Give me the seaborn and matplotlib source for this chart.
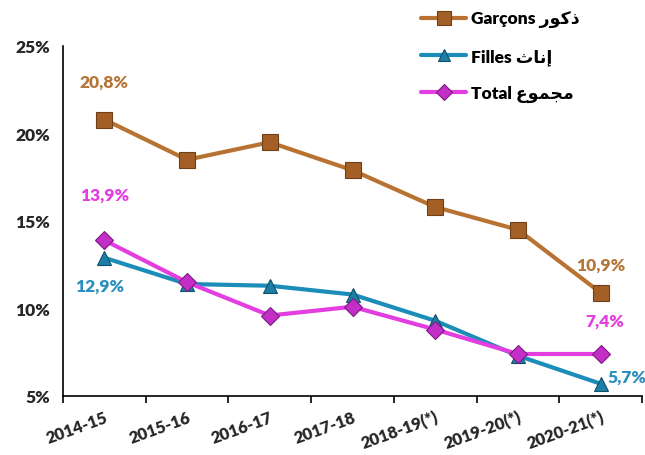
import matplotlib
matplotlib.use("Agg")
import matplotlib.pyplot as plt
from matplotlib.ticker import FixedLocator, NullFormatter, FuncFormatter
import seaborn as sns
import pandas as pd

years = ["2014-15", "2015-16", "2016-17", "2017-18", "2018-19(*)", "2019-20(*)", "2020-21(*)"]
garcons = [20.8, 18.5, 19.5, 17.9, 15.8, 14.5, 10.9]
filles = [12.9, 11.4, 11.3, 10.8, 9.3, 7.3, 5.7]
total = [13.9, 11.5, 9.6, 10.1, 8.8, 7.4, 7.4]

# Arabic words in presentation forms, visual order
ar_garcons = "\uFEAD\uFEEE\uFEDB\uFEAB"
ar_filles = "\uFE99\uFE8E\uFEE7\uFE87"
ar_total = "\uFEC9\uFEEE\uFEE4\uFEA0\uFEE3"

sns.set_theme(style="white")
plt.rcParams["font.family"] = ["Lato", "DejaVu Sans"]
plt.rcParams["font.weight"] = "bold"

series = [
    ("Garçons " + ar_garcons, garcons, "#B87333", "s", 11.5, "#A35F25", "#6E4018"),
    ("Filles " + ar_filles, filles, "#1B8DB8", "^", 10.5, "#1D7FA8", "#0F4F6A"),
    ("Total " + ar_total, total, "#E23EE0", "D", 9.5, "#C22EC6", "#7E1A82"),
]

fig = plt.figure(figsize=(6.45, 4.56), dpi=100)
ax = fig.add_axes([63 / 645, 1 - 397 / 456, (642 - 63) / 645, (397 - 47) / 456])

for name, vals, col, mk, ms, fc, ec in series:
    df = pd.DataFrame({"x": range(len(years)), "y": vals})
    sns.lineplot(data=df, x="x", y="y", ax=ax, color=col, linewidth=3,
                 marker=mk, markersize=ms, markerfacecolor=fc,
                 markeredgecolor=ec, markeredgewidth=0.8, label=name)

ax.set_xlim(-0.5, len(years) - 0.5)
ax.set_ylim(5, 25)
ax.set_xlabel("")
ax.set_ylabel("")

for s in ["top", "right"]:
    ax.spines[s].set_visible(False)
for s in ["left", "bottom"]:
    ax.spines[s].set_color("black")
    ax.spines[s].set_linewidth(1.2)

ax.yaxis.set_major_locator(FixedLocator([5, 10, 15, 20, 25]))
ax.yaxis.set_major_formatter(FuncFormatter(lambda v, p: f"{int(v)}%"))
ax.tick_params(axis="y", direction="out", length=5, width=1.2, color="black",
               labelsize=12.5, pad=4)
for t in ax.get_yticklabels():
    t.set_fontweight("heavy")

ax.xaxis.set_major_locator(FixedLocator([i - 0.5 for i in range(len(years) + 1)]))
ax.xaxis.set_major_formatter(NullFormatter())
ax.xaxis.set_minor_locator(FixedLocator(list(range(len(years)))))
ax.set_xticklabels(years, minor=True, rotation=20, fontsize=12, fontweight="heavy",
                   ha="right", va="top", rotation_mode="anchor")
ax.tick_params(axis="x", which="major", direction="out", length=5, width=1.2,
               color="black", bottom=True)
ax.tick_params(axis="x", which="minor", length=0, pad=9)
ax.grid(False)

# value labels at the first and last points
lab_kw = dict(fontsize=12.5, fontweight="heavy", ha="center", va="center")
def pct(v):
    return f"{v:.1f}%".replace(".", ",")

ax.annotate(pct(garcons[0]), (0, garcons[0]), xytext=(0, 27),
            textcoords="offset points", color="#B5763A", **lab_kw)
ax.annotate(pct(garcons[-1]), (6, garcons[-1]), xytext=(0, 20),
            textcoords="offset points", color="#B5763A", **lab_kw)
ax.annotate(pct(total[0]), (0, total[0]), xytext=(0, 33),
            textcoords="offset points", color="#E23EE0", **lab_kw)
ax.annotate(pct(total[-1]), (6, total[-1]), xytext=(3, 24),
            textcoords="offset points", color="#E23EE0", **lab_kw)
ax.annotate(pct(filles[0]), (0, filles[0]), xytext=(-3, -20),
            textcoords="offset points", color="#2A8FBE", **lab_kw)
ax.annotate(pct(filles[-1]), (6, filles[-1]), xytext=(19, 5),
            textcoords="offset points", color="#2A8FBE", **lab_kw)

leg = ax.legend(loc="upper left", bbox_to_anchor=(414 / 645, 1 - 5 / 456),
                bbox_transform=fig.transFigure, frameon=False, handlelength=2.6,
                labelspacing=1.15, handletextpad=0.3, borderaxespad=0,
                markerscale=0.85, prop={"size": 12.5, "weight": "heavy"})
for t in leg.get_texts():
    t.set_color("black")

fig.savefig("out.png", dpi=100)
